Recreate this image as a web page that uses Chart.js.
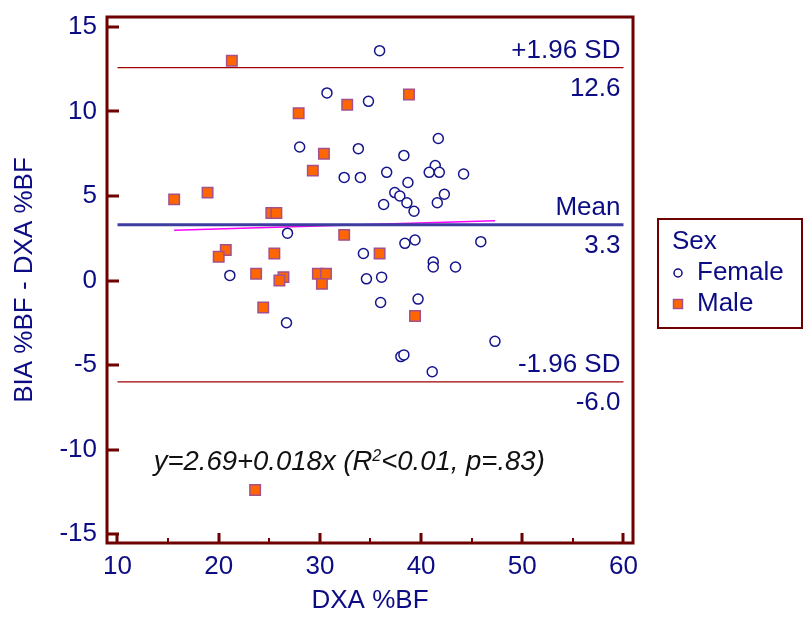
<!DOCTYPE html>
<html>
<head>
<meta charset="utf-8">
<script src="https://cdn.jsdelivr.net/npm/chart.js@4.4.1/dist/chart.umd.min.js"></script>
<style>
  html, body { margin: 0; padding: 0; background: #fff; }
  #wrap { width: 803px; height: 618px; }
</style>
</head>
<body>
<div id="wrap"><canvas id="bland-altman" width="803" height="618"></canvas></div>
<script>
// DXA %BF (x) against BIA - DXA difference (y), split by sex
const femaleDxa = [30.7, 34.8, 28.0, 33.8, 32.4, 34.0, 35.9, 41.7, 38.3, 36.6,
  41.4, 40.8, 41.8, 44.2, 38.7, 42.3, 37.4, 37.9, 36.3, 38.6,
  41.6, 39.3, 26.8, 38.4, 39.4, 45.9, 34.3, 41.2, 41.2, 43.4,
  34.6, 36.1, 21.1, 36.0, 39.7, 47.3, 38.0, 38.3, 41.1, 26.7];
const femaleDiff = [11.1, 10.6, 7.9, 7.8, 6.1, 6.1, 13.6, 8.4, 7.4, 6.4,
  6.8, 6.4, 6.4, 6.3, 5.8, 5.1, 5.2, 5.0, 4.5, 4.6,
  4.6, 4.1, 2.8, 2.2, 2.4, 2.3, 1.6, 1.1, 0.8, 0.8,
  0.1, 0.2, 0.3, -1.3, -1.1, -3.6, -4.5, -4.4, -5.4, -2.5];
const maleDxa = [21.3, 32.7, 27.9, 38.8, 30.4, 29.3, 15.6, 18.9, 25.2, 25.7,
  32.4, 35.9, 20.7, 20.0, 25.5, 23.7, 26.4, 26.0, 29.8, 30.6,
  30.2, 24.4, 39.4, 23.6];
const maleDiff = [13.0, 10.4, 9.9, 11.0, 7.5, 6.5, 4.8, 5.2, 4.0, 4.0,
  2.7, 1.6, 1.8, 1.4, 1.6, 0.4, 0.2, 0.0, 0.4, 0.4,
  -0.2, -1.6, -2.1, -12.4];

const xTicks = [10, 20, 30, 40, 50, 60];
const xMinorTicks = [15, 25, 35, 45, 55];
const yTicks = [-15, -10, -5, 0, 5, 10, 15];

const meanDiff = 3.3;
const upperLoA = 12.6;
const lowerLoA = -6.0;
const regIntercept = 2.69;
const regSlope = 0.018;

const FONT = "'Liberation Sans', Arial, sans-serif";
const NAVY = '#0c0c84';
const FRAME = '#6e0000';

const toPoints = (xs, ys) => xs.map((x, i) => ({ x, y: ys[i] }));
const hLine = v => [{ x: xTicks[0], y: v }, { x: xTicks[xTicks.length - 1], y: v }];

const allDxa = femaleDxa.concat(maleDxa);
const regFrom = Math.min(...allDxa);
const regTo = Math.max(...allDxa);
const regLine = [
  { x: regFrom, y: regIntercept + regSlope * regFrom },
  { x: regTo, y: regIntercept + regSlope * regTo },
];

// frame, inward ticks, limit labels, equation and the legend box
const decorPlugin = {
  id: 'decor',
  afterDraw(chart) {
    const { ctx, chartArea: a, scales: { x, y } } = chart;
    ctx.save();

    ctx.strokeStyle = FRAME;
    ctx.lineWidth = 3;
    ctx.strokeRect(a.left, a.top, a.right - a.left, a.bottom - a.top);

    ctx.beginPath();
    xTicks.forEach(v => {
      const px = Math.round(x.getPixelForValue(v));
      ctx.moveTo(px, a.bottom); ctx.lineTo(px, a.bottom - 10);
    });
    yTicks.forEach(v => {
      const py = Math.round(y.getPixelForValue(v));
      ctx.moveTo(a.left, py); ctx.lineTo(a.left + 12, py);
    });
    ctx.stroke();
    ctx.lineWidth = 2;
    ctx.beginPath();
    xMinorTicks.forEach(v => {
      const px = Math.round(x.getPixelForValue(v));
      ctx.moveTo(px, a.bottom); ctx.lineTo(px, a.bottom - 5);
    });
    ctx.stroke();

    // labels above / below the three horizontal lines
    ctx.fillStyle = NAVY;
    ctx.font = `26px ${FONT}`;
    ctx.textAlign = 'right';
    ctx.textBaseline = 'alphabetic';
    const rx = x.getPixelForValue(xTicks[xTicks.length - 1]) - 3;
    [['+1.96 SD', upperLoA], ['Mean', meanDiff], ['-1.96 SD', lowerLoA]].forEach(([name, v]) => {
      const py = y.getPixelForValue(v);
      ctx.fillText(name, rx, py - 10);
      ctx.fillText(v.toFixed(1), rx, py + 28.5);
    });

    // regression equation
    const partA = `y=${regIntercept}+${regSlope}x (R`;
    const partB = '<0.01, p=.83)';
    ctx.fillStyle = '#111';
    ctx.textAlign = 'left';
    ctx.font = `italic 27.5px ${FONT}`;
    const wA = ctx.measureText(partA).width;
    const wB = ctx.measureText(partB).width;
    ctx.font = `italic 16px ${FONT}`;
    const wS = ctx.measureText('2').width;
    let ex = x.getPixelForValue(32.9) - (wA + wS + wB) / 2;
    const ey = y.getPixelForValue(-11.2);
    ctx.font = `italic 27.5px ${FONT}`;
    ctx.fillText(partA, ex, ey);
    ex += wA;
    ctx.font = `italic 16px ${FONT}`;
    ctx.fillText('2', ex, ey - 9);
    ex += wS;
    ctx.font = `italic 27.5px ${FONT}`;
    ctx.fillText(partB, ex, ey);

    // legend
    ctx.strokeStyle = FRAME;
    ctx.lineWidth = 2;
    ctx.strokeRect(658, 219, 144, 109);
    ctx.fillStyle = NAVY;
    ctx.textBaseline = 'middle';
    ctx.font = `26px ${FONT}`;
    ctx.fillText('Sex', 672, 242);
    ctx.fillText('Female', 697, 273);
    ctx.fillText('Male', 697, 304);
    ctx.beginPath();
    ctx.arc(678, 273, 4, 0, Math.PI * 2);
    ctx.fillStyle = '#fff';
    ctx.fill();
    ctx.lineWidth = 1.5;
    ctx.strokeStyle = NAVY;
    ctx.stroke();
    ctx.fillStyle = '#ff6600';
    ctx.fillRect(673.5, 299.5, 9, 9);
    ctx.strokeStyle = '#a4508a';
    ctx.strokeRect(673.5, 299.5, 9, 9);

    ctx.restore();
  },
};

const lineSet = (data, color, width) => ({
  data, showLine: true, borderColor: color, borderWidth: width,
  pointRadius: 0, fill: false, order: 2,
});

new Chart(document.getElementById('bland-altman'), {
  type: 'scatter',
  data: {
    datasets: [
      lineSet(hLine(upperLoA), '#a00000', 1.2),
      lineSet(hLine(lowerLoA), '#a00000', 1.2),
      lineSet(hLine(meanDiff), '#3d3da0', 3),
      lineSet(regLine, '#ff00ff', 1.5),
      {
        label: 'Female',
        data: toPoints(femaleDxa, femaleDiff),
        pointStyle: 'circle',
        pointRadius: 5,
        pointBorderWidth: 1.5,
        pointBorderColor: '#14148c',
        pointBackgroundColor: '#fff',
        order: 1,
      },
      {
        label: 'Male',
        data: toPoints(maleDxa, maleDiff),
        pointStyle: 'rect',
        pointRadius: 7.4,
        pointBorderWidth: 1.5,
        pointBorderColor: '#a4508a',
        pointBackgroundColor: '#ff6600',
        order: 0,
      },
    ],
  },
  options: {
    responsive: false,
    animation: false,
    devicePixelRatio: 1,
    layout: { padding: { top: 17, right: 170, left: 0, bottom: 0 } },
    plugins: { legend: { display: false }, tooltip: { enabled: false } },
    scales: {
      x: {
        type: 'linear',
        min: 8.9625,
        max: 60.94,
        afterBuildTicks: s => { s.ticks = xTicks.map(value => ({ value })); },
        afterFit: s => { s.height = 75; },
        grid: { display: false, drawTicks: false },
        border: { display: false },
        ticks: {
          color: NAVY, padding: 8, maxRotation: 0,
          font: { family: FONT, size: 26 },
          callback: v => String(v),
        },
        title: {
          display: true, text: 'DXA %BF', color: NAVY,
          font: { family: FONT, size: 26 }, padding: { top: 0, bottom: 2 },
        },
      },
      y: {
        type: 'linear',
        min: -15.53,
        max: 15.59,
        afterBuildTicks: s => { s.ticks = yTicks.map(value => ({ value })); },
        afterFit: s => { s.width = 107; s.paddingTop = 0; s.paddingBottom = 0; },
        grid: { display: false, drawTicks: false },
        border: { display: false },
        ticks: {
          color: NAVY, padding: 10,
          font: { family: FONT, size: 26 },
          callback: v => String(v),
        },
        title: {
          display: true, text: 'BIA %BF - DXA %BF', color: NAVY,
          font: { family: FONT, size: 26 }, padding: { top: 9, bottom: 0 },
        },
      },
    },
  },
  plugins: [decorPlugin],
});
</script>
</body>
</html>
